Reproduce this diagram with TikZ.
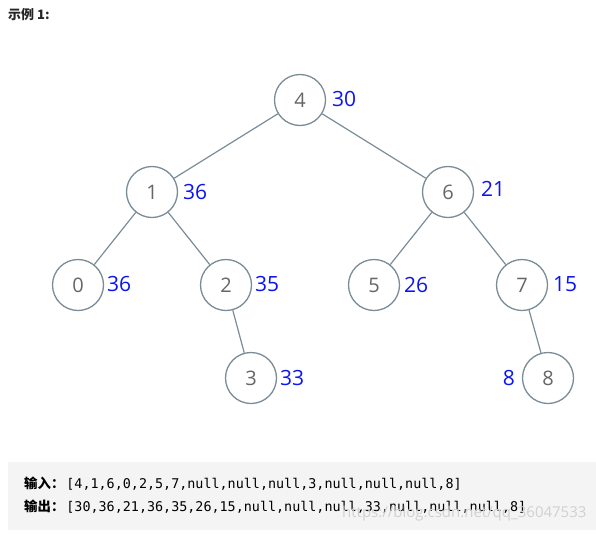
\documentclass[tikz,border=0pt]{standalone}
\usepackage{fontspec}
\setmainfont{Open Sans}
\setmonofont{DejaVu Sans Mono}
\newfontfamily\cjk{Noto Sans CJK SC}
\definecolor{edgec}{HTML}{7A8C96}
\definecolor{numc}{HTML}{666666}
\definecolor{lblc}{HTML}{0A14F5}
\definecolor{boxc}{HTML}{F4F4F4}
\begin{document}
\begin{tikzpicture}[x=1pt,y=-1pt,
  tnode/.style={circle,draw=edgec,line width=1.3pt,fill=white,minimum size=51pt,inner sep=0pt,
    text=numc,font=\fontsize{20}{24}\selectfont},
  vlabel/.style={text=lblc,font=\fontsize{21}{25}\selectfont,inner sep=0pt},
  tedge/.style={draw=edgec,line width=1.2pt},
  codetext/.style={anchor=west,inner sep=0pt,font=\fontsize{13.4}{16}\selectfont}]
\useasboundingbox (0,0) rectangle (596,533);
% title
\node[anchor=west,inner sep=0pt,font=\cjk\bfseries\fontsize{13}{16}\selectfont,text=black!85] (title) at (8,15) {示例 1:};
% tree nodes
\node[tnode] (n4) at (300,100) {4};
\node[tnode] (n1) at (152,192) {1};
\node[tnode] (n6) at (448,192) {6};
\node[tnode] (n0) at (78,285) {0};
\node[tnode] (n2) at (226,285) {2};
\node[tnode] (n5) at (374,285) {5};
\node[tnode] (n7) at (522,285) {7};
\node[tnode] (n3) at (251,378) {3};
\node[tnode] (n8) at (548,378) {8};
% edges
\draw[tedge] (n4) -- (n1);
\draw[tedge] (n4) -- (n6);
\draw[tedge] (n1) -- (n0);
\draw[tedge] (n1) -- (n2);
\draw[tedge] (n6) -- (n5);
\draw[tedge] (n6) -- (n7);
\draw[tedge] (n2) -- (n3);
\draw[tedge] (n7) -- (n8);
% value labels
\node[vlabel,anchor=west] (l4) at (332,99) {30};
\node[vlabel,anchor=west] (l1) at (183,192) {36};
\node[vlabel,anchor=west] (l6) at (481,189) {21};
\node[vlabel,anchor=west] (l0) at (107,284) {36};
\node[vlabel,anchor=west] (l2) at (255,284) {35};
\node[vlabel,anchor=west] (l5) at (404,285) {26};
\node[vlabel,anchor=west] (l7) at (553,284) {15};
\node[vlabel,anchor=west] (l3) at (280,378) {33};
\node[vlabel,anchor=east] (l8) at (515,378) {8};
% code box
\fill[boxc] (8,462) rectangle (596,530);
\node[codetext] (in) at (24,484) {{\cjk\bfseries 输入：}\hspace{2pt}\ttfamily[4,1,6,0,2,5,7,null,null,null,3,null,null,null,8]};
\node[codetext] (out) at (24,507) {{\cjk\bfseries 输出：}\hspace{2pt}\ttfamily[30,36,21,36,35,26,15,null,null,null,33,null,null,null,8]};
\node[anchor=west,inner sep=0pt,text=black!18,font=\fontsize{15}{18}\selectfont] (wm) at (342,514) {https://blog.csdn.net/qq\_36047533};
\end{tikzpicture}
\end{document}
